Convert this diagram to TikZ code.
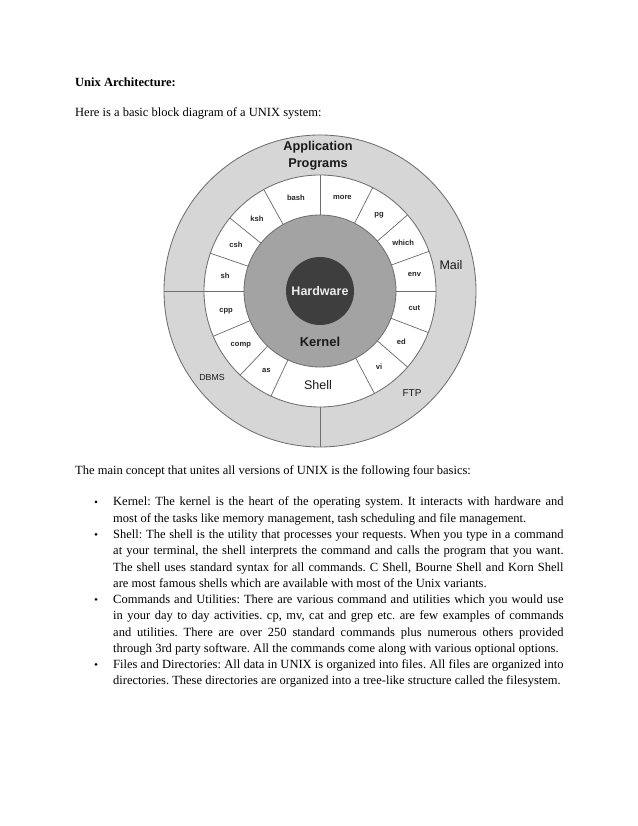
\documentclass[tikz,border=0pt]{standalone}
\usepackage{fontspec}
\setmainfont{Liberation Serif}
\newfontfamily\archfont{Liberation Sans}
\usetikzlibrary{calc}

\definecolor{ringgray}{HTML}{D6D6D6}
\definecolor{kernelgray}{HTML}{A3A3A3}
\definecolor{hwgray}{HTML}{3E3E3E}
\definecolor{edgegray}{HTML}{6E6E6E}

\tikzset{
  line/.style={anchor=base west, inner sep=0pt, font=\fontsize{12pt}{15.6pt}\selectfont},
  para/.style={line, text width=432pt, align=justify,
    execute at begin node={\frenchspacing\tolerance=10000\exhyphenpenalty=10000\hyphenpenalty=10000}},
  divider/.style={draw=edgegray, line width=0.7pt},
  cmd/.style={inner sep=0pt, font=\archfont\bfseries\fontsize{7.3pt}{8pt}\selectfont, text=black!85},
  big/.style={inner sep=0pt, font=\archfont\fontsize{12pt}{13pt}\selectfont, text=black!90}
}

\begin{document}
\frenchspacing
\begin{tikzpicture}[x=0.9592pt, y=0.9592pt]
  \useasboundingbox[fill=white] (0,0) rectangle (638,826);

  \node[line, font=\bfseries\fontsize{12pt}{15.6pt}\selectfont] (title) at (75,739) {Unix Architecture:};
  \node[line] (intro) at (75,709) {Here is a basic block diagram of a UNIX system:};

  % the diagram
  \begin{scope}[shift={(320,535)}]
    \filldraw[fill=ringgray, draw=edgegray, line width=0.8pt] (0,0) circle (156);
    \filldraw[fill=white, draw=edgegray, line width=0.8pt] (0,0) circle (116);
    \filldraw[fill=kernelgray, draw=edgegray, line width=0.8pt] (0,0) circle (76);
    \fill[hwgray] (0,0) circle (34);

    \draw[divider] (180:116) -- (180:156);
    \draw[divider] (-90:116) -- (-90:156);
    \foreach \a in {90,63,41,20,0,-21,-41,-62,-115,-133.5,-157,180,161,141,119}
      \draw[divider] (\a:76) -- (\a:116);

    \foreach \c/\a in {bash/104.5, more/76.5, pg/52, which/30, env/10, cut/-10.5,
                       ed/-32, vi/-52, as/-124, comp/-145.5, cpp/-168, sh/171, csh/151, ksh/131}
      \node[cmd] (\c) at (\a:96) {\c};

    \node[big, font=\archfont\bfseries\fontsize{12.2pt}{16pt}\selectfont, align=center] (apps) at (-2,135) {Application\\Programs};
    \node[big] (mail) at (131,26) {Mail};
    \node[big, font=\archfont\fontsize{9.6pt}{11pt}\selectfont] (ftp) at (92,-102) {FTP};
    \node[big, font=\archfont\fontsize{8.4pt}{10pt}\selectfont] (dbms) at (-108,-86) {DBMS};
    \node[big] (shell) at (-2,-94) {Shell};
    \node[big, font=\archfont\bfseries\fontsize{12.4pt}{14pt}\selectfont] (kernel) at (0,-51) {Kernel};
    \node[big, font=\archfont\bfseries\fontsize{12pt}{14pt}\selectfont, text=white!92!black] (hw) at (0,0) {Hardware};
  \end{scope}

  \node[line] (basics) at (75,351) {The main concept that unites all versions of UNIX is the following four basics:};

  \node[para] (kernelitem) at (113,320) {Kernel: The kernel is the heart of the operating system. It interacts with hardware and\linebreak
    most of the tasks like memory management, tash scheduling and file management.};
  \node[para] (shellitem) at (113,287.5) {Shell: The shell is the utility that processes your requests. When you type in a command\linebreak
    at your terminal, the shell interprets the command and calls the program that you want.\linebreak
    The shell uses standard syntax for all commands. C Shell, Bourne Shell and Korn Shell\linebreak
    are most famous shells which are available with most of the Unix variants.};
  \node[para] (cmditem) at (113,222.5) {Commands and Utilities: There are various command and utilities which you would use\linebreak
    in your day to day activities. cp, mv, cat and grep etc. are few examples of commands\linebreak
    and utilities. There are over 250 standard commands plus numerous others provided\linebreak
    through 3rd party software. All the commands come along with various optional options.};
  \node[para] (filesitem) at (113,157.5) {Files and Directories: All data in UNIX is organized into files. All files are organized into\linebreak
    directories. These directories are organized into a tree-like structure called the filesystem.};

  \foreach \item in {kernelitem, shellitem, cmditem, filesitem}
    \fill ($(\item.base west)+(-17,4)$) circle (1.5);
\end{tikzpicture}
\end{document}
